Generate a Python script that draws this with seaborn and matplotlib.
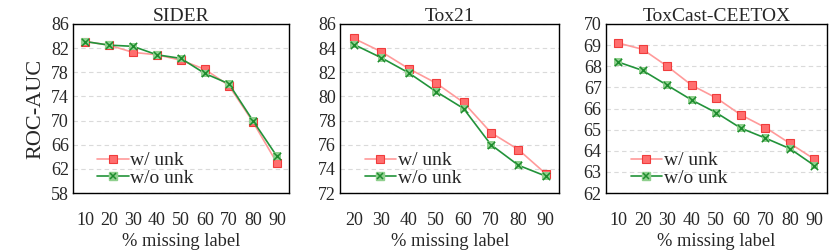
import matplotlib
matplotlib.use("Agg")
import matplotlib.pyplot as plt
from matplotlib.lines import Line2D
from matplotlib.legend_handler import HandlerTuple
import seaborn as sns
import pandas as pd

# ---- data ----
sider_x = ["10", "20", "30", "40", "50", "60", "70", "80", "90"]
sider_w = [83.1, 82.5, 81.3, 80.9, 80.0, 78.5, 75.8, 69.8, 63.0]
sider_wo = [83.1, 82.5, 82.3, 80.9, 80.3, 77.8, 76.1, 70.0, 64.1]

tox21_x = ["20", "30", "40", "50", "60", "70", "80", "90"]
tox21_w = [84.8, 83.7, 82.3, 81.1, 79.5, 77.0, 75.6, 73.6]
tox21_wo = [84.3, 83.2, 81.95, 80.4, 79.0, 76.0, 74.3, 73.4]

toxcast_x = ["10", "20", "30", "40", "50", "60", "70", "80", "90"]
toxcast_w = [69.1, 68.8, 68.0, 67.1, 66.5, 65.7, 65.1, 64.35, 63.6]
toxcast_wo = [68.2, 67.8, 67.1, 66.4, 65.8, 65.07, 64.6, 64.1, 63.3]

titles = ["SIDER", "Tox21", "ToxCast-CEETOX"]
yticks = [list(range(58, 87, 4)), list(range(72, 87, 2)), list(range(62, 71, 1))]
series_names = ["w/ unk", "w/o unk"]

sns.set_style("white")
plt.rcParams["font.family"] = ["Liberation Serif", "DejaVu Serif"]

RED_LINE = "#FF9A9A"
RED_FILL = "#FF6E6E"
RED_EDGE = "#F03C3C"
GREEN_LINE = "#22933A"
GREEN_FILL = "#90D08E"
GREEN_X = "#1E8C2E"

fig = plt.figure(figsize=(8.3, 2.5), dpi=100)
positions = [
    [0.088, 0.228, 0.260, 0.676],
    [0.410, 0.228, 0.264, 0.676],
    [0.730, 0.228, 0.266, 0.676],
]
datasets = [
    (sider_x, sider_w, sider_wo),
    (tox21_x, tox21_w, tox21_wo),
    (toxcast_x, toxcast_w, toxcast_wo),
]

for i, (xs, w, wo) in enumerate(datasets):
    ax = fig.add_axes(positions[i])
    df = pd.DataFrame({"x": xs, "w": w, "wo": wo})
    # red series
    sns.lineplot(data=df, x="x", y="w", ax=ax, color=RED_LINE, lw=1.2,
                 marker="s", markersize=5.5, markerfacecolor=RED_FILL,
                 markeredgecolor=RED_EDGE, markeredgewidth=0.8, sort=False, zorder=3)
    # green series
    sns.lineplot(data=df, x="x", y="wo", ax=ax, color=GREEN_LINE, lw=1.2,
                 sort=False, zorder=4)
    sns.scatterplot(data=df, x="x", y="wo", ax=ax, marker="s", s=30,
                    color=GREEN_FILL, edgecolor="none", linewidth=0, zorder=5)
    sns.scatterplot(data=df, x="x", y="wo", ax=ax, marker="x", s=28,
                    color=GREEN_X, linewidth=1.1, zorder=6)

    ax.set_xlim(-0.5, len(xs) - 0.5)
    yt = yticks[i]
    ax.set_ylim(yt[0], yt[-1])
    ax.set_yticks(yt)
    ax.set_yticklabels([str(v) for v in yt])
    ax.grid(axis="y", color="#dadada", linestyle=(0, (4, 3)), lw=0.8)
    ax.grid(axis="x", visible=False)
    ax.tick_params(axis="x", length=0, pad=13.5, labelsize=13)
    ax.tick_params(axis="y", length=0, pad=3, labelsize=13)
    for sp in ax.spines.values():
        sp.set_color("black")
        sp.set_linewidth(1.0)
    ax.set_title(titles[i], fontsize=14, pad=2.5)
    ax.set_xlabel("% missing label", fontsize=13.3, labelpad=3)
    if i == 0:
        ax.set_ylabel("ROC-AUC", fontsize=16, labelpad=4)
    else:
        ax.set_ylabel("")

    h_red = Line2D([], [], color=RED_LINE, lw=1.2, marker="s", markersize=5.5,
                   markerfacecolor=RED_FILL, markeredgecolor=RED_EDGE, markeredgewidth=0.8)
    h_gsq = Line2D([], [], color=GREEN_LINE, lw=1.2, marker="s", markersize=5.5,
                   markerfacecolor=GREEN_FILL, markeredgecolor=GREEN_FILL)
    h_gx = Line2D([], [], color=GREEN_X, lw=0, marker="x", markersize=5,
                  markeredgewidth=1.1)
    leg = ax.legend([h_red, (h_gsq, h_gx)], series_names,
                    handler_map={tuple: HandlerTuple(ndivide=1)},
                    loc="lower left", bbox_to_anchor=(0.05, -0.045), frameon=False,
                    fontsize=14, handlelength=1.6, handletextpad=0.1,
                    labelspacing=0.0, borderaxespad=0.3)

fig.savefig("out.png", dpi=100)
